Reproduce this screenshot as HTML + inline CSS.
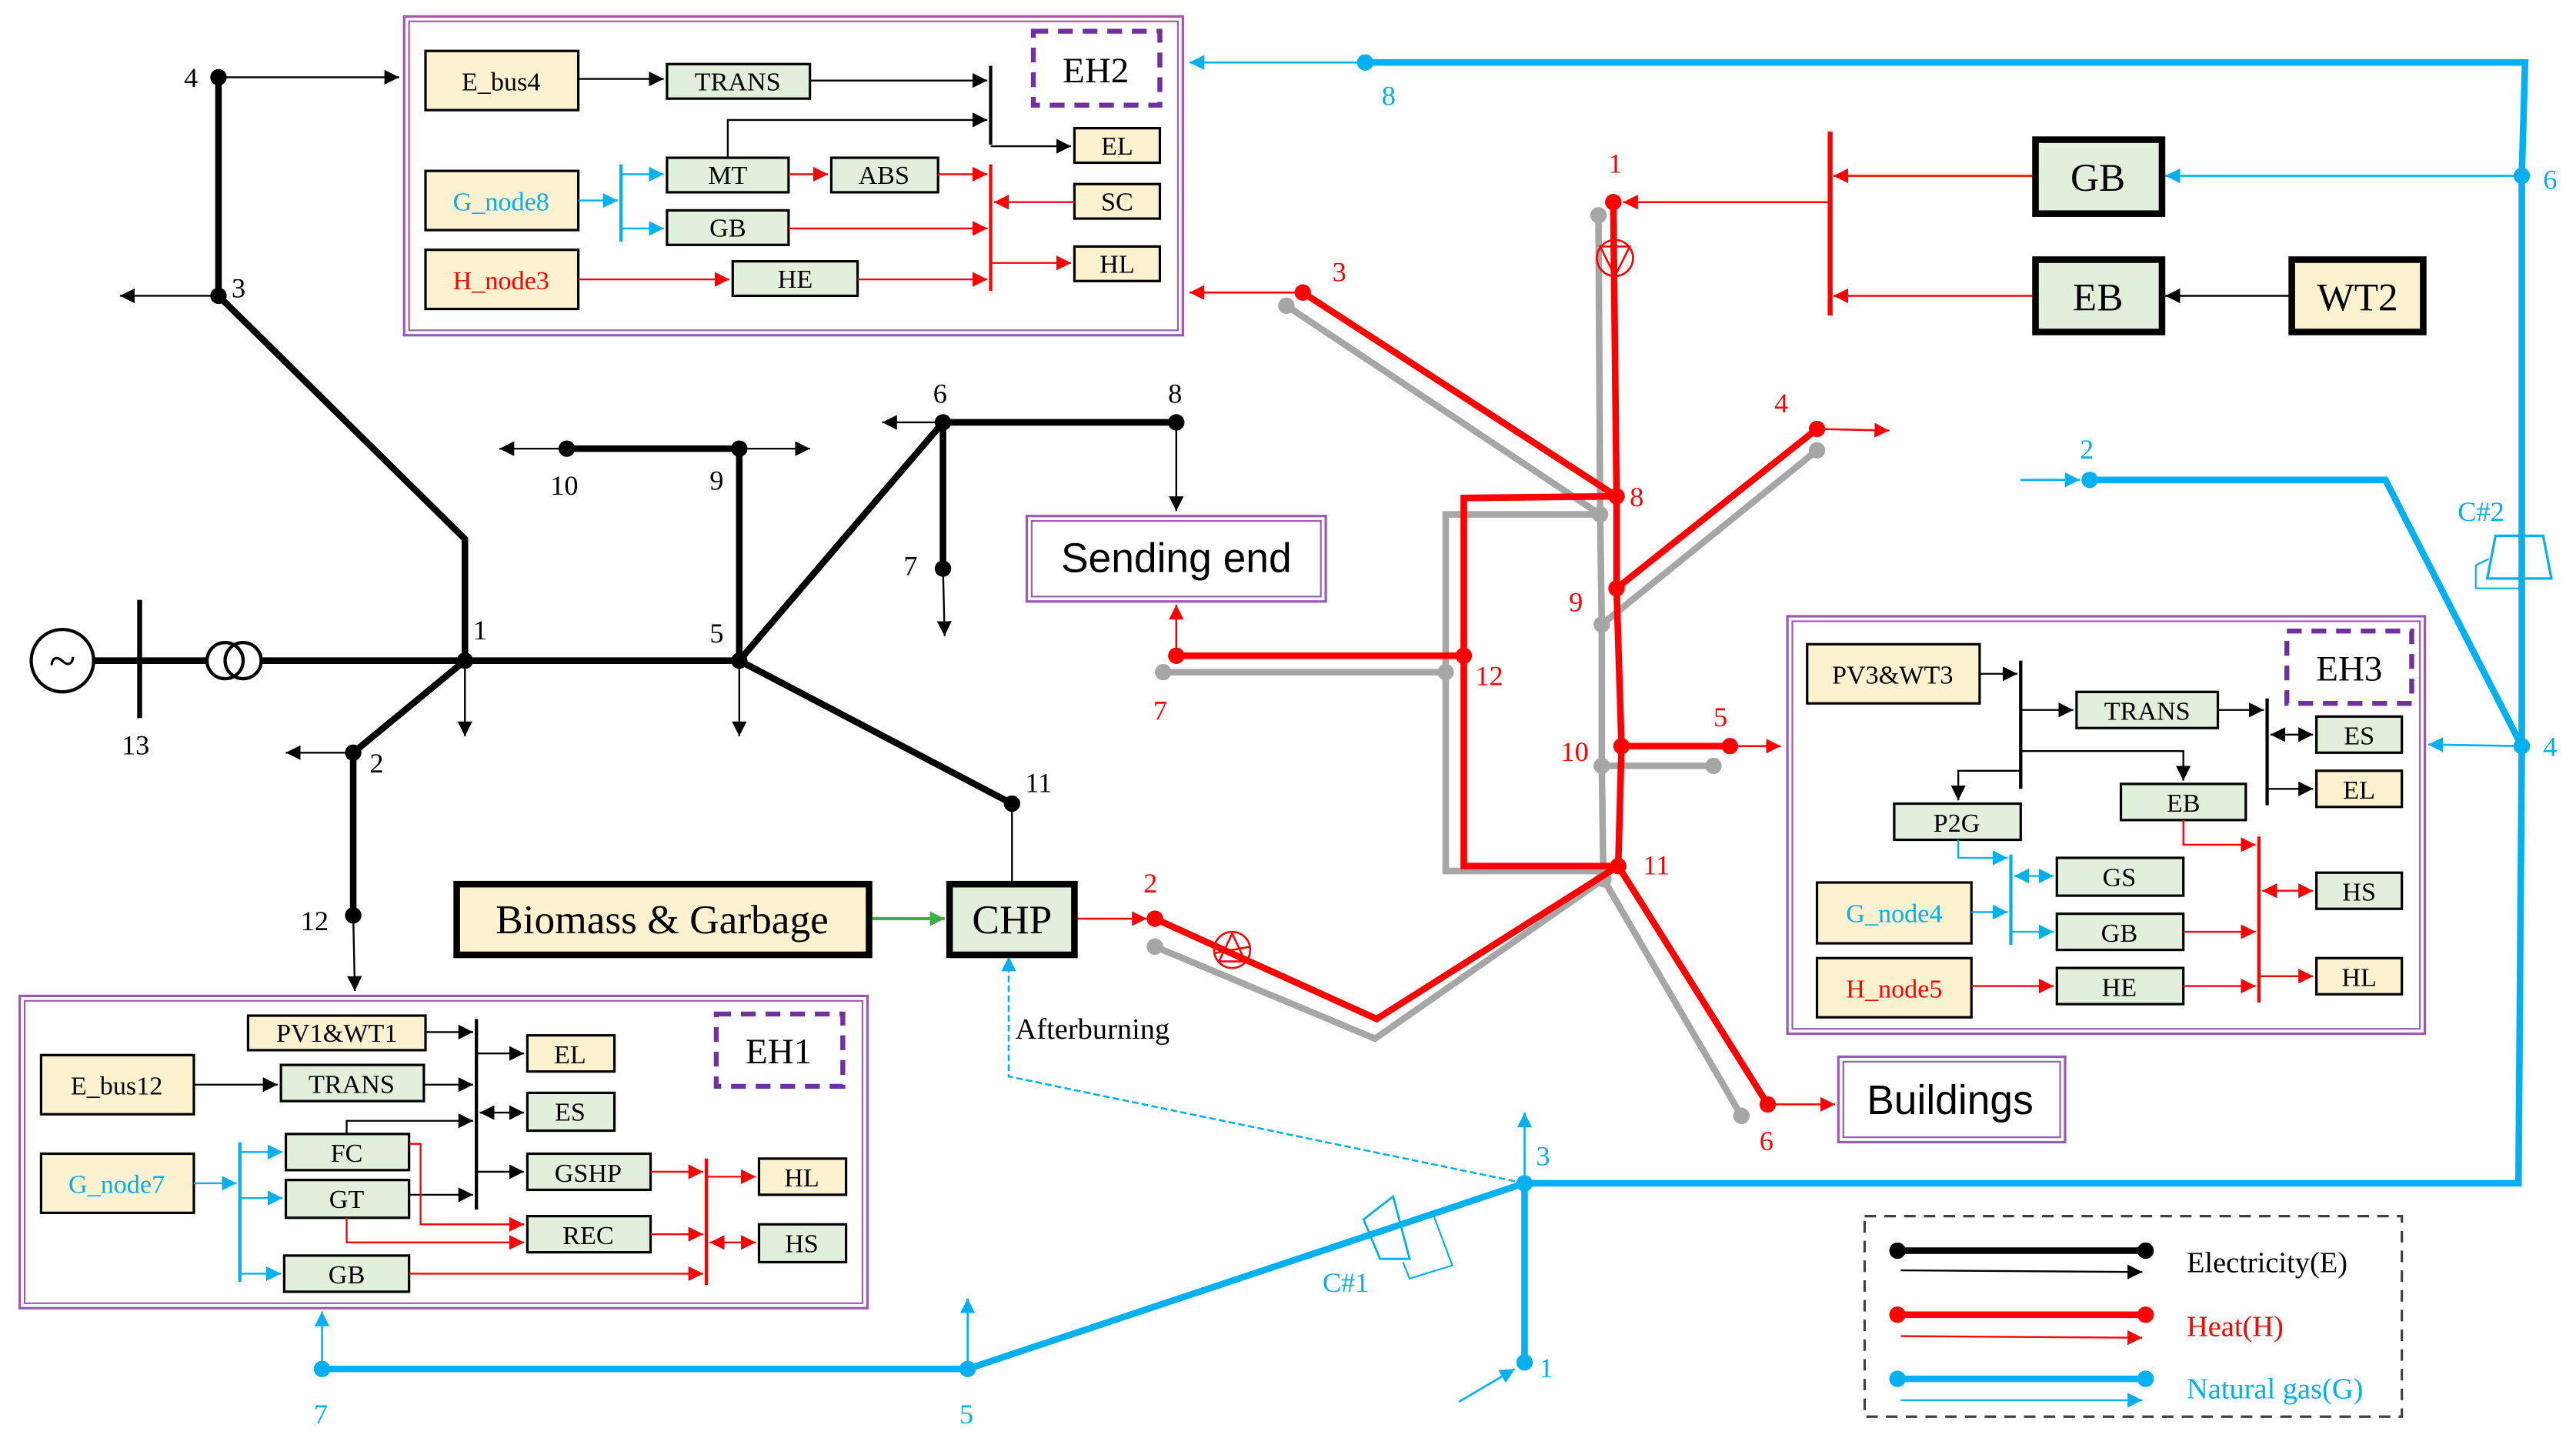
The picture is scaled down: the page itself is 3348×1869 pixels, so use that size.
<!DOCTYPE html>
<html><head><meta charset="utf-8"><style>
html,body{margin:0;padding:0;background:#fff;}
svg{display:block;}
text{font-family:"Liberation Serif",serif;}
.s{font-family:"Liberation Sans",sans-serif;}
</style></head><body>
<svg width="3348" height="1869" viewBox="0 0 1568 875" preserveAspectRatio="none" xmlns="http://www.w3.org/2000/svg">
<defs>
<marker id="ak" viewBox="0 0 10 10" refX="10" refY="5" markerWidth="9" markerHeight="9" markerUnits="userSpaceOnUse" orient="auto"><path d="M0,0L10,5L0,10z" fill="#000"/></marker>
<marker id="ar" viewBox="0 0 10 10" refX="10" refY="5" markerWidth="9" markerHeight="9" markerUnits="userSpaceOnUse" orient="auto"><path d="M0,0L10,5L0,10z" fill="#f00"/></marker>
<marker id="ab" viewBox="0 0 10 10" refX="10" refY="5" markerWidth="9" markerHeight="9" markerUnits="userSpaceOnUse" orient="auto"><path d="M0,0L10,5L0,10z" fill="#00b0f0"/></marker>
<marker id="ag" viewBox="0 0 10 10" refX="10" refY="5" markerWidth="9" markerHeight="9" markerUnits="userSpaceOnUse" orient="auto"><path d="M0,0L10,5L0,10z" fill="#3cb043"/></marker>
<marker id="aks" viewBox="0 0 10 10" refX="0" refY="5" markerWidth="9" markerHeight="9" markerUnits="userSpaceOnUse" orient="auto"><path d="M10,0L0,5L10,10z" fill="#000"/></marker>
<marker id="ars" viewBox="0 0 10 10" refX="0" refY="5" markerWidth="9" markerHeight="9" markerUnits="userSpaceOnUse" orient="auto"><path d="M10,0L0,5L10,10z" fill="#f00"/></marker>
<marker id="abs" viewBox="0 0 10 10" refX="0" refY="5" markerWidth="9" markerHeight="9" markerUnits="userSpaceOnUse" orient="auto"><path d="M10,0L0,5L10,10z" fill="#00b0f0"/></marker>
</defs>

<!-- ============ GAS NETWORK ============ -->
<g stroke="#00b0f0" fill="none">
<polyline points="831,38 1537,38 1535,107 1535,454 1533,720 928,720" stroke-width="4"/>
<polyline points="1272,292 1452,292 1535,454" stroke-width="4"/>
<polyline points="196,833 589,833 928,720 928,829" stroke-width="4"/>
<line x1="831" y1="38" x2="724" y2="38" stroke-width="1.2" marker-end="url(#ab)"/>
<line x1="1535" y1="107" x2="1318" y2="107" stroke-width="1.2" marker-end="url(#ab)"/>
<line x1="1535" y1="454" x2="1478" y2="453" stroke-width="1.2" marker-end="url(#ab)"/>
<line x1="1230" y1="292" x2="1266" y2="292" stroke-width="1.2" marker-end="url(#ab)"/>
<line x1="196" y1="833" x2="196" y2="798" stroke-width="1.2" marker-end="url(#ab)"/>
<line x1="589" y1="833" x2="589" y2="790" stroke-width="1.2" marker-end="url(#ab)"/>
<line x1="928" y1="720" x2="928" y2="677" stroke-width="1.2" marker-end="url(#ab)"/>
<line x1="888" y1="853" x2="922" y2="833" stroke-width="1.2" marker-end="url(#ab)"/>
<polyline points="928,720 614,655 614,582" stroke-width="1.2" stroke-dasharray="4,2" marker-end="url(#ab)"/>
<!-- C#2 -->
<path d="M1519,326 L1548,326 L1553,352 L1514,352 Z" stroke-width="1.5"/>
<polyline points="1536,358 1507,358 1507,344 1515,340" stroke-width="1"/>
<!-- C#1 -->
<path d="M830,742 L848,728 L858,766 L840,766 Z" stroke-width="1.3"/>
<polyline points="872,738 884,770 858,778 854,768" stroke-width="1"/>
</g>
<g fill="#00b0f0">
<circle cx="831" cy="38" r="5"/><circle cx="1535" cy="107" r="5"/><circle cx="1535" cy="454" r="5"/>
<circle cx="1272" cy="292" r="5"/><circle cx="196" cy="833" r="5"/><circle cx="589" cy="833" r="5"/>
<circle cx="928" cy="720" r="5"/><circle cx="928" cy="829" r="5"/>
</g>
<g fill="#00b0f0" font-size="17">
<text x="841" y="64">8</text><text x="1548" y="115">6</text><text x="1548" y="460">4</text>
<text x="1266" y="279">2</text><text x="1496" y="317">C#2</text><text x="191" y="866">7</text>
<text x="584" y="866">5</text><text x="935" y="709">3</text><text x="937" y="838">1</text>
<text x="805" y="786">C#1</text>
</g>
<text x="618" y="632" font-size="18">Afterburning</text>

<!-- ============ HEAT NETWORK ============ -->
<g stroke="#a6a6a6" stroke-width="4" fill="none" stroke-linecap="round">
<polyline points="783,186 974,313"/>
<polyline points="973,131 974,313 975,380 975,466 976,535"/>
<polyline points="975,380 1106,274"/>
<polyline points="974,313 880,313 880,530 976,530"/>
<polyline points="708,409 880,409"/>
<polyline points="975,466 1043,466"/>
<polyline points="703,576 837,632 976,535 1060,679"/>
</g>
<g fill="#a6a6a6">
<circle cx="783" cy="186" r="5"/><circle cx="973" cy="131" r="5"/><circle cx="974" cy="313" r="5"/>
<circle cx="975" cy="380" r="5"/><circle cx="1106" cy="274" r="5"/><circle cx="708" cy="409" r="5"/>
<circle cx="880" cy="409" r="5"/><circle cx="975" cy="466" r="5"/><circle cx="1043" cy="466" r="5"/>
<circle cx="703" cy="576" r="5"/><circle cx="976" cy="535" r="5"/><circle cx="1060" cy="679" r="5"/>
</g>
<g stroke="#f00" stroke-width="4" fill="none">
<polyline points="793,178 984,302"/>
<polyline points="982,123 984,302 984,358 987,454 985,527"/>
<polyline points="984,358 1106,261"/>
<polyline points="984,302 891,303 891,527 985,527"/>
<polyline points="716,399 891,399"/>
<polyline points="987,454 1053,454"/>
<polyline points="703,559 838,620 985,527 1076,672"/>
</g>
<g stroke="#f00" fill="none" stroke-width="1.2">
<line x1="793" y1="178" x2="724" y2="178" marker-end="url(#ar)"/>
<line x1="1106" y1="261" x2="1150" y2="262" marker-end="url(#ar)"/>
<line x1="716" y1="399" x2="716" y2="368" marker-end="url(#ar)"/>
<line x1="1053" y1="454" x2="1084" y2="454" marker-end="url(#ar)"/>
<line x1="1076" y1="672" x2="1117" y2="672" marker-end="url(#ar)"/>
<line x1="654" y1="559" x2="698" y2="559" marker-end="url(#ar)"/>
<line x1="1114" y1="123" x2="988" y2="123" marker-end="url(#ar)"/>
<line x1="1238" y1="107" x2="1116" y2="107" marker-end="url(#ar)"/>
<line x1="1238" y1="180" x2="1116" y2="180" marker-end="url(#ar)"/>
<!-- pumps -->
<circle cx="983" cy="157" r="11"/><path d="M974,150 L992,150 L983,168 Z M983,147 L983,157"/>
<circle cx="750" cy="578" r="11"/><path d="M742,585 L750,568 L758,585 Z M739,580 L761,576"/>
</g>
<line x1="1114" y1="80" x2="1114" y2="192" stroke="#f00" stroke-width="3"/>
<g fill="#f00">
<circle cx="793" cy="178" r="5"/><circle cx="982" cy="123" r="5"/><circle cx="984" cy="302" r="5"/>
<circle cx="984" cy="358" r="5"/><circle cx="1106" cy="261" r="5"/><circle cx="891" cy="399" r="5"/>
<circle cx="716" cy="399" r="5"/><circle cx="987" cy="454" r="5"/><circle cx="1053" cy="454" r="5"/>
<circle cx="985" cy="527" r="5"/><circle cx="703" cy="559" r="5"/><circle cx="1076" cy="672" r="5"/>
</g>
<g fill="#f00" font-size="17">
<text x="979" y="105">1</text><text x="811" y="171">3</text><text x="992" y="308">8</text>
<text x="955" y="372">9</text><text x="1080" y="251">4</text><text x="898" y="417">12</text>
<text x="702" y="438">7</text><text x="950" y="463">10</text><text x="1043" y="442">5</text>
<text x="1000" y="532">11</text><text x="696" y="543">2</text><text x="1071" y="700">6</text>
</g>

<!-- GB / EB / WT2 -->
<g stroke="#000" stroke-width="4">
<rect x="1239" y="85" width="77" height="45" fill="#e2efda"/>
<rect x="1239" y="158" width="77" height="44" fill="#e2efda"/>
<rect x="1395" y="158" width="80" height="44" fill="#fdf2d0"/>
</g>
<line x1="1395" y1="180" x2="1318" y2="180" stroke="#000" stroke-width="1.2" marker-end="url(#ak)"/>
<g font-size="24" text-anchor="middle"><text x="1277" y="116">GB</text><text x="1277" y="189">EB</text><text x="1435" y="189">WT2</text></g>

<!-- ============ ELECTRIC NETWORK ============ -->
<g stroke="#000" stroke-width="4" fill="none">
<polyline points="133,47 133,180 283,328 283,402"/>
<line x1="57" y1="402" x2="126" y2="402"/>
<line x1="158" y1="402" x2="450" y2="402"/>
<polyline points="283,402 215,458 215,557"/>
<polyline points="450,402 450,273 345,273"/>
<polyline points="450,402 574,257 716,257"/>
<line x1="574" y1="257" x2="574" y2="346"/>
<line x1="450" y1="402" x2="616" y2="489"/>
<line x1="85" y1="365" x2="85" y2="437" stroke-width="3"/>
</g>
<g stroke="#000" fill="none" stroke-width="2">
<circle cx="38" cy="402" r="19"/><circle cx="137" cy="402" r="11"/><circle cx="148" cy="402" r="11"/>
</g>
<text x="38" y="412" font-size="30" text-anchor="middle">~</text>
<g stroke="#000" stroke-width="1.1" fill="none">
<line x1="133" y1="47" x2="243" y2="47" marker-end="url(#ak)"/>
<line x1="133" y1="180" x2="73" y2="180" marker-end="url(#ak)"/>
<line x1="283" y1="402" x2="283" y2="448" marker-end="url(#ak)"/>
<line x1="450" y1="402" x2="450" y2="448" marker-end="url(#ak)"/>
<line x1="345" y1="273" x2="304" y2="273" marker-end="url(#ak)"/>
<line x1="450" y1="273" x2="493" y2="273" marker-end="url(#ak)"/>
<line x1="574" y1="257" x2="537" y2="257" marker-end="url(#ak)"/>
<line x1="716" y1="257" x2="716" y2="311" marker-end="url(#ak)"/>
<line x1="574" y1="346" x2="575" y2="387" marker-end="url(#ak)"/>
<line x1="215" y1="458" x2="174" y2="458" marker-end="url(#ak)"/>
<line x1="215" y1="557" x2="216" y2="603" marker-end="url(#ak)"/>
<line x1="616" y1="489" x2="616" y2="537"/>
</g>
<g fill="#000">
<circle cx="133" cy="47" r="5"/><circle cx="133" cy="180" r="5"/><circle cx="283" cy="402" r="5"/>
<circle cx="450" cy="402" r="5"/><circle cx="215" cy="458" r="5"/><circle cx="215" cy="557" r="5"/>
<circle cx="450" cy="273" r="5"/><circle cx="345" cy="273" r="5"/><circle cx="574" cy="257" r="5"/>
<circle cx="716" cy="257" r="5"/><circle cx="574" cy="346" r="5"/><circle cx="616" cy="489" r="5"/>
</g>
<g font-size="17">
<text x="112" y="53">4</text><text x="141" y="181">3</text><text x="288" y="389">1</text>
<text x="432" y="391">5</text><text x="225" y="470">2</text><text x="183" y="566">12</text>
<text x="74" y="459">13</text><text x="335" y="301">10</text><text x="432" y="298">9</text>
<text x="568" y="245">6</text><text x="711" y="245">8</text><text x="550" y="350">7</text>
<text x="624" y="482">11</text>
</g>

<!-- Sending end / Buildings -->
<g fill="#fff" stroke="#9b59b6">
<rect x="625" y="314" width="182" height="52" stroke-width="1.5"/><rect x="628" y="317" width="176" height="46" stroke-width="1"/>
<rect x="1119" y="643" width="138" height="52" stroke-width="1.5"/><rect x="1122" y="646" width="132" height="46" stroke-width="1"/>
</g>
<text class="s" x="716" y="348" font-size="25" text-anchor="middle">Sending end</text>
<text class="s" x="1187" y="678" font-size="25" text-anchor="middle">Buildings</text>

<!-- Biomass / CHP -->
<rect x="278" y="538" width="251" height="43" fill="#fdf2d0" stroke="#000" stroke-width="4"/>
<rect x="578" y="538" width="76" height="43" fill="#e2efda" stroke="#000" stroke-width="4"/>
<text x="403" y="568" font-size="25" text-anchor="middle">Biomass &amp; Garbage</text>
<text x="616" y="568" font-size="25" text-anchor="middle">CHP</text>
<line x1="531" y1="559" x2="575" y2="559" stroke="#3cb043" stroke-width="2" marker-end="url(#ag)"/>

<!-- ============ EH2 ============ -->
<g fill="none" stroke="#9b59b6"><rect x="246" y="10" width="474" height="194" stroke-width="1.5"/><rect x="249" y="13" width="468" height="188" stroke-width="1"/></g>
<rect x="629" y="19" width="77" height="45" fill="none" stroke="#7030a0" stroke-width="3" stroke-dasharray="9,6"/>
<text x="667" y="50" font-size="22" text-anchor="middle">EH2</text>
<g stroke="#000" stroke-width="1.5">
<rect x="259" y="31" width="93" height="36" fill="#fdf2d0"/>
<rect x="259" y="104" width="93" height="36" fill="#fdf2d0"/>
<rect x="259" y="152" width="93" height="36" fill="#fdf2d0"/>
<rect x="406" y="39" width="87" height="21" fill="#e2efda"/>
<rect x="406" y="96" width="74" height="21" fill="#e2efda"/>
<rect x="506" y="96" width="65" height="21" fill="#e2efda"/>
<rect x="406" y="128" width="74" height="21" fill="#e2efda"/>
<rect x="446" y="159" width="76" height="21" fill="#e2efda"/>
<rect x="654" y="78" width="52" height="21" fill="#fdf2d0"/>
<rect x="654" y="112" width="52" height="21" fill="#fdf2d0"/>
<rect x="654" y="150" width="52" height="21" fill="#fdf2d0"/>
</g>
<g font-size="16" text-anchor="middle">
<text x="305" y="55">E_bus4</text><text x="305" y="128" fill="#00b0f0">G_node8</text><text x="305" y="176" fill="#f00">H_node3</text>
<text x="449" y="55">TRANS</text><text x="443" y="112">MT</text><text x="538" y="112">ABS</text>
<text x="443" y="144">GB</text><text x="484" y="175">HE</text><text x="680" y="94">EL</text>
<text x="680" y="128">SC</text><text x="680" y="166">HL</text>
</g>
<line x1="603" y1="40" x2="603" y2="88" stroke="#000" stroke-width="2"/>
<line x1="603" y1="100" x2="603" y2="177" stroke="#f00" stroke-width="2"/>
<line x1="378" y1="100" x2="378" y2="147" stroke="#00b0f0" stroke-width="2"/>
<g stroke-width="1.1" fill="none">
<line x1="352" y1="48" x2="404" y2="48" stroke="#000" marker-end="url(#ak)"/>
<line x1="493" y1="49" x2="601" y2="49" stroke="#000" marker-end="url(#ak)"/>
<polyline points="443,96 443,73 601,73" stroke="#000" marker-end="url(#ak)"/>
<line x1="603" y1="89" x2="652" y2="89" stroke="#000" marker-end="url(#ak)"/>
<line x1="352" y1="122" x2="376" y2="122" stroke="#00b0f0" marker-end="url(#ab)"/>
<line x1="378" y1="106" x2="404" y2="106" stroke="#00b0f0" marker-end="url(#ab)"/>
<line x1="378" y1="139" x2="404" y2="139" stroke="#00b0f0" marker-end="url(#ab)"/>
<line x1="480" y1="106" x2="504" y2="106" stroke="#f00" marker-end="url(#ar)"/>
<line x1="571" y1="106" x2="601" y2="106" stroke="#f00" marker-end="url(#ar)"/>
<line x1="654" y1="123" x2="605" y2="123" stroke="#f00" marker-end="url(#ar)"/>
<line x1="480" y1="139" x2="601" y2="139" stroke="#f00" marker-end="url(#ar)"/>
<line x1="603" y1="160" x2="652" y2="160" stroke="#f00" marker-end="url(#ar)"/>
<line x1="352" y1="170" x2="444" y2="170" stroke="#f00" marker-end="url(#ar)"/>
<line x1="522" y1="170" x2="601" y2="170" stroke="#f00" marker-end="url(#ar)"/>
</g>

<!-- ============ EH1 ============ -->
<g fill="none" stroke="#9b59b6"><rect x="12" y="606" width="516" height="190" stroke-width="1.5"/><rect x="15" y="609" width="510" height="184" stroke-width="1"/></g>
<rect x="436" y="617" width="77" height="44" fill="none" stroke="#7030a0" stroke-width="3" stroke-dasharray="9,6"/>
<text x="474" y="647" font-size="22" text-anchor="middle">EH1</text>
<g stroke="#000" stroke-width="1.5">
<rect x="151" y="618" width="108" height="21" fill="#fdf2d0"/>
<rect x="25" y="642" width="93" height="36" fill="#fdf2d0"/>
<rect x="25" y="702" width="93" height="36" fill="#fdf2d0"/>
<rect x="171" y="648" width="87" height="22" fill="#e2efda"/>
<rect x="174" y="690" width="75" height="22" fill="#e2efda"/>
<rect x="174" y="718" width="75" height="23" fill="#e2efda"/>
<rect x="173" y="764" width="76" height="22" fill="#e2efda"/>
<rect x="321" y="630" width="53" height="22" fill="#fdf2d0"/>
<rect x="321" y="665" width="53" height="23" fill="#e2efda"/>
<rect x="321" y="702" width="75" height="22" fill="#e2efda"/>
<rect x="321" y="740" width="75" height="22" fill="#e2efda"/>
<rect x="462" y="705" width="53" height="22" fill="#fdf2d0"/>
<rect x="462" y="745" width="53" height="23" fill="#e2efda"/>
</g>
<g font-size="16" text-anchor="middle">
<text x="205" y="634">PV1&amp;WT1</text><text x="71" y="666">E_bus12</text><text x="71" y="726" fill="#00b0f0">G_node7</text>
<text x="214" y="665">TRANS</text><text x="211" y="707">FC</text><text x="211" y="735">GT</text><text x="211" y="781">GB</text>
<text x="347" y="647">EL</text><text x="347" y="682">ES</text><text x="358" y="719">GSHP</text><text x="358" y="757">REC</text>
<text x="488" y="722">HL</text><text x="488" y="762">HS</text>
</g>
<line x1="290" y1="620" x2="290" y2="736" stroke="#000" stroke-width="2"/>
<line x1="430" y1="705" x2="430" y2="782" stroke="#f00" stroke-width="2"/>
<line x1="146" y1="695" x2="146" y2="780" stroke="#00b0f0" stroke-width="2"/>
<g stroke-width="1.1" fill="none">
<line x1="259" y1="628" x2="288" y2="628" stroke="#000" marker-end="url(#ak)"/>
<line x1="118" y1="660" x2="169" y2="660" stroke="#000" marker-end="url(#ak)"/>
<line x1="258" y1="660" x2="288" y2="660" stroke="#000" marker-end="url(#ak)"/>
<polyline points="211,690 211,682 288,682" stroke="#000" marker-end="url(#ak)"/>
<line x1="249" y1="727" x2="288" y2="727" stroke="#000" marker-end="url(#ak)"/>
<line x1="290" y1="641" x2="319" y2="641" stroke="#000" marker-end="url(#ak)"/>
<line x1="292" y1="677" x2="319" y2="677" stroke="#000" marker-start="url(#aks)" marker-end="url(#ak)"/>
<line x1="290" y1="713" x2="319" y2="713" stroke="#000" marker-end="url(#ak)"/>
<line x1="118" y1="720" x2="144" y2="720" stroke="#00b0f0" marker-end="url(#ab)"/>
<line x1="146" y1="701" x2="172" y2="701" stroke="#00b0f0" marker-end="url(#ab)"/>
<line x1="146" y1="729" x2="172" y2="729" stroke="#00b0f0" marker-end="url(#ab)"/>
<line x1="146" y1="775" x2="171" y2="775" stroke="#00b0f0" marker-end="url(#ab)"/>
<polyline points="249,696 256,696 256,745 319,745" stroke="#f00" marker-end="url(#ar)"/>
<polyline points="211,741 211,756 319,756" stroke="#f00" marker-end="url(#ar)"/>
<line x1="396" y1="713" x2="428" y2="713" stroke="#f00" marker-end="url(#ar)"/>
<line x1="396" y1="751" x2="428" y2="751" stroke="#f00" marker-end="url(#ar)"/>
<line x1="249" y1="775" x2="428" y2="775" stroke="#f00" marker-end="url(#ar)"/>
<line x1="430" y1="716" x2="460" y2="716" stroke="#f00" marker-end="url(#ar)"/>
<line x1="432" y1="756" x2="460" y2="756" stroke="#f00" marker-start="url(#ars)" marker-end="url(#ar)"/>
</g>

<!-- ============ EH3 ============ -->
<g fill="none" stroke="#9b59b6"><rect x="1088" y="375" width="388" height="254" stroke-width="1.5"/><rect x="1091" y="378" width="382" height="248" stroke-width="1"/></g>
<rect x="1392" y="384" width="76" height="44" fill="none" stroke="#7030a0" stroke-width="3" stroke-dasharray="9,6"/>
<text x="1430" y="414" font-size="22" text-anchor="middle">EH3</text>
<g stroke="#000" stroke-width="1.5">
<rect x="1100" y="392" width="105" height="36" fill="#fdf2d0"/>
<rect x="1106" y="537" width="94" height="37" fill="#fdf2d0"/>
<rect x="1106" y="583" width="94" height="36" fill="#fdf2d0"/>
<rect x="1264" y="421" width="86" height="22" fill="#e2efda"/>
<rect x="1153" y="489" width="77" height="22" fill="#e2efda"/>
<rect x="1291" y="477" width="76" height="22" fill="#e2efda"/>
<rect x="1252" y="522" width="77" height="23" fill="#e2efda"/>
<rect x="1252" y="556" width="77" height="22" fill="#e2efda"/>
<rect x="1252" y="589" width="77" height="22" fill="#e2efda"/>
<rect x="1410" y="436" width="52" height="22" fill="#e2efda"/>
<rect x="1410" y="469" width="52" height="22" fill="#fdf2d0"/>
<rect x="1410" y="531" width="52" height="22" fill="#e2efda"/>
<rect x="1410" y="583" width="52" height="22" fill="#fdf2d0"/>
</g>
<g font-size="16" text-anchor="middle">
<text x="1152" y="416">PV3&amp;WT3</text><text x="1153" y="561" fill="#00b0f0">G_node4</text><text x="1153" y="607" fill="#f00">H_node5</text>
<text x="1307" y="438">TRANS</text><text x="1191" y="506">P2G</text><text x="1329" y="494">EB</text>
<text x="1290" y="539">GS</text><text x="1290" y="573">GB</text><text x="1290" y="606">HE</text>
<text x="1436" y="453">ES</text><text x="1436" y="486">EL</text><text x="1436" y="548">HS</text><text x="1436" y="600">HL</text>
</g>
<line x1="1230" y1="402" x2="1230" y2="480" stroke="#000" stroke-width="2"/>
<line x1="1380" y1="425" x2="1380" y2="490" stroke="#000" stroke-width="2"/>
<line x1="1375" y1="509" x2="1375" y2="610" stroke="#f00" stroke-width="2"/>
<line x1="1224" y1="520" x2="1224" y2="575" stroke="#00b0f0" stroke-width="2"/>
<g stroke-width="1.1" fill="none">
<line x1="1205" y1="410" x2="1228" y2="410" stroke="#000" marker-end="url(#ak)"/>
<line x1="1230" y1="432" x2="1262" y2="432" stroke="#000" marker-end="url(#ak)"/>
<polyline points="1230,457 1329,457 1329,475" stroke="#000" marker-end="url(#ak)"/>
<polyline points="1230,469 1192,469 1192,487" stroke="#000" marker-end="url(#ak)"/>
<line x1="1350" y1="432" x2="1378" y2="432" stroke="#000" marker-end="url(#ak)"/>
<line x1="1382" y1="447" x2="1408" y2="447" stroke="#000" marker-start="url(#aks)" marker-end="url(#ak)"/>
<line x1="1380" y1="480" x2="1408" y2="480" stroke="#000" marker-end="url(#ak)"/>
<polyline points="1192,511 1192,522 1222,522" stroke="#00b0f0" marker-end="url(#ab)"/>
<line x1="1200" y1="555" x2="1222" y2="555" stroke="#00b0f0" marker-end="url(#ab)"/>
<line x1="1226" y1="533" x2="1250" y2="533" stroke="#00b0f0" marker-start="url(#abs)" marker-end="url(#ab)"/>
<line x1="1224" y1="567" x2="1250" y2="567" stroke="#00b0f0" marker-end="url(#ab)"/>
<line x1="1200" y1="600" x2="1250" y2="600" stroke="#f00" marker-end="url(#ar)"/>
<polyline points="1329,499 1329,514 1373,514" stroke="#f00" marker-end="url(#ar)"/>
<line x1="1329" y1="567" x2="1373" y2="567" stroke="#f00" marker-end="url(#ar)"/>
<line x1="1329" y1="600" x2="1373" y2="600" stroke="#f00" marker-end="url(#ar)"/>
<line x1="1377" y1="542" x2="1408" y2="542" stroke="#f00" marker-start="url(#ars)" marker-end="url(#ar)"/>
<line x1="1375" y1="594" x2="1408" y2="594" stroke="#f00" marker-end="url(#ar)"/>
</g>

<!-- ============ LEGEND ============ -->
<rect x="1135" y="740" width="327" height="122" fill="none" stroke="#404040" stroke-width="1.5" stroke-dasharray="7,5"/>
<g stroke-width="4">
<line x1="1155" y1="761" x2="1306" y2="761" stroke="#000"/>
<line x1="1155" y1="800" x2="1306" y2="800" stroke="#f00"/>
<line x1="1155" y1="839" x2="1306" y2="839" stroke="#00b0f0"/>
</g>
<circle cx="1155" cy="761" r="5"/><circle cx="1306" cy="761" r="5"/>
<circle cx="1155" cy="800" r="5" fill="#f00"/><circle cx="1306" cy="800" r="5" fill="#f00"/>
<circle cx="1155" cy="839" r="5" fill="#00b0f0"/><circle cx="1306" cy="839" r="5" fill="#00b0f0"/>
<g stroke-width="1.1">
<line x1="1157" y1="773" x2="1304" y2="774" stroke="#000" marker-end="url(#ak)"/>
<line x1="1157" y1="813" x2="1304" y2="814" stroke="#f00" marker-end="url(#ar)"/>
<line x1="1157" y1="852" x2="1304" y2="852" stroke="#00b0f0" marker-end="url(#ab)"/>
</g>
<g font-size="18">
<text x="1331" y="774">Electricity(E)</text>
<text x="1331" y="813" fill="#f00">Heat(H)</text>
<text x="1331" y="851" fill="#00b0f0">Natural gas(G)</text>
</g>
</svg>
</body></html>
